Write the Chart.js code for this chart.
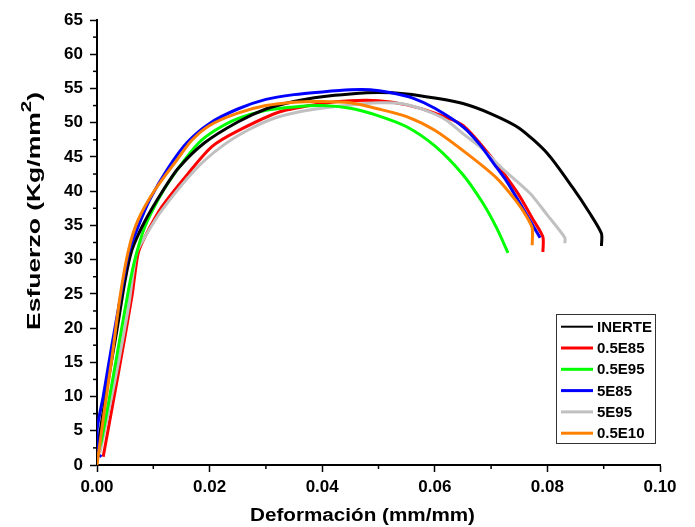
<!DOCTYPE html>
<html>
<head>
<meta charset="utf-8">
<script src="https://cdn.jsdelivr.net/npm/chart.js@4.4.1/dist/chart.umd.min.js"></script>
<style>
  html, body { margin: 0; padding: 0; background: #fff; }
  #wrap { width: 695px; height: 527px; }
</style>
</head>
<body>
<div id="wrap"><canvas id="curvas"></canvas></div>
<script>
// curvas esfuerzo-deformacion, valores
const labels = ['INERTE', '0.5E85', '0.5E95', '5E85', '5E95', '0.5E10'];
const colores = ['#000000', '#ff0000', '#00ff00', '#0000ff', '#c0c0c0', '#ff8000'];
const orden = [2, 5, 3, 1, 4, 0];   // orden de dibujo (0 = encima)

const inerte = [
    [0, 2], [0.002, 12.4], [0.0035, 19.5], [0.005, 27], [0.0062, 31.4], [0.0085, 35.6],
    [0.0115, 39.8], [0.0144, 43.3], [0.019, 47], [0.025, 50.1], [0.03, 52], [0.035, 53.1],
    [0.04, 53.8], [0.045, 54.2], [0.05, 54.4], [0.055, 54.2], [0.06, 53.6], [0.065, 52.8],
    [0.07, 51.3], [0.075, 49.2], [0.08, 45.5], [0.0845, 40.5], [0.0875, 36.8],
    [0.0896, 33.8], [0.0896, 32]
];
const e85_05 = [
    [0.0011, 1.2], [0.0038, 13.4], [0.0062, 24.6], [0.0073, 30.9], [0.0085, 33.3],
    [0.0115, 37.7], [0.0162, 42.6], [0.0204, 46.5], [0.025, 48.8], [0.0325, 51.6],
    [0.04, 52.8], [0.045, 53.2], [0.05, 53.2], [0.055, 52.6], [0.06, 51.4], [0.065, 49.6],
    [0.07, 45], [0.0745, 40], [0.0775, 35.8], [0.0792, 33.3], [0.0792, 31.1]
];
const e95_05 = [
    [0, 1.5], [0.0008, 3.6], [0.0032, 14.4], [0.0056, 25.6], [0.0067, 29.9], [0.0085, 34.8],
    [0.0115, 39.7], [0.0145, 43.4], [0.018, 47], [0.021, 48.9], [0.025, 50.6], [0.03, 51.8],
    [0.035, 52.3], [0.04, 52.5], [0.045, 52.1], [0.05, 51], [0.055, 49.4], [0.06, 46.6],
    [0.065, 42.4], [0.0685, 38.3], [0.071, 34.6], [0.073, 31]
];
const e85_5 = [
    [0.0008, 1.2], [0.0002, 1.6], [0, 5.1], [0.0011, 10], [0.0026, 17.3], [0.0044, 25.6],
    [0.0056, 30.9], [0.0073, 34.8], [0.0094, 38.8], [0.0125, 43.2], [0.016, 47.1],
    [0.02, 49.9], [0.025, 52], [0.03, 53.4], [0.035, 54.1], [0.04, 54.5], [0.045, 54.8],
    [0.0485, 54.8], [0.052, 54.4], [0.0561, 53.6], [0.06, 52.1], [0.065, 49.4],
    [0.068, 46.8], [0.0705, 44], [0.0728, 41.4], [0.076, 37], [0.0787, 33.2]
];
const e95_5 = [
    [0.0005, 1.7], [0.0032, 12.4], [0.0056, 23.1], [0.007, 30.9], [0.0085, 33.3],
    [0.0115, 37.2], [0.0174, 43.1], [0.0221, 46.5], [0.027, 49], [0.032, 50.8],
    [0.038, 51.9], [0.045, 52.6], [0.05, 52.9], [0.054, 52.8], [0.058, 51.9],
    [0.062, 50.4], [0.065, 48.4], [0.068, 46.5], [0.072, 43.3], [0.0769, 39.7],
    [0.08, 36.5], [0.0831, 33.2], [0.0831, 32.4]
];
const e10_05 = [
    [0, 0], [0.0014, 8.5], [0.0026, 15.3], [0.0041, 24.6], [0.0056, 31.4], [0.0073, 35.8],
    [0.0103, 40.2], [0.0144, 44.8], [0.0168, 47.4], [0.02, 49.6], [0.025, 51.4],
    [0.03, 52.5], [0.035, 53], [0.04, 53.1], [0.045, 52.9], [0.05, 52], [0.055, 50.9],
    [0.06, 48.9], [0.066, 45.3], [0.071, 41.9], [0.0745, 38.5], [0.0763, 36.3],
    [0.0773, 34.6], [0.0773, 32.1]
];
const series = [inerte, e85_05, e95_05, e85_5, e95_5, e10_05];

const xTicks = [0, 0.02, 0.04, 0.06, 0.08, 0.10];
const yTicks = [0, 5, 10, 15, 20, 25, 30, 35, 40, 45, 50, 55, 60, 65];

const FONT = 'Arial, "Liberation Sans", sans-serif';

// texto estirado horizontalmente a un ancho dado
function textoAncho(ctx, partes, ancho) {
    let total = 0;
    partes.forEach(p => { ctx.font = p.font; p.w = ctx.measureText(p.t).width; total += p.w; });
    const k = ancho / total;
    ctx.save();
    ctx.scale(k, 1);
    let x = -total / 2;
    partes.forEach(p => { ctx.font = p.font; ctx.fillText(p.t, x, p.dy || 0); x += p.w; });
    ctx.restore();
}

// ticks menores, titulos de ejes y leyenda
const extras = {
    id: 'extras',
    afterDraw(chart) {
        const ctx = chart.ctx;
        const xs = chart.scales.x, ys = chart.scales.y;
        const a = chart.chartArea;
        ctx.save();
        ctx.strokeStyle = '#000';
        ctx.lineWidth = 1.5;
        for (let i = 0; i < xTicks.length - 1; i++) {
            const px = xs.getPixelForValue((xTicks[i] + xTicks[i + 1]) / 2);
            ctx.beginPath(); ctx.moveTo(px, a.bottom); ctx.lineTo(px, a.bottom + 4); ctx.stroke();
        }
        for (let i = 0; i < yTicks.length - 1; i++) {
            const py = ys.getPixelForValue((yTicks[i] + yTicks[i + 1]) / 2);
            ctx.beginPath(); ctx.moveTo(a.left, py); ctx.lineTo(a.left - 4, py); ctx.stroke();
        }

        ctx.fillStyle = '#000';
        ctx.textAlign = 'left';
        ctx.textBaseline = 'alphabetic';

        // titulo eje x
        ctx.save();
        ctx.translate(362.5, 521);
        textoAncho(ctx, [{ t: 'Deformación (mm/mm)', font: 'bold 18px ' + FONT }], 225);
        ctx.restore();

        // titulo eje y con superindice
        ctx.save();
        ctx.translate(40, 211);
        ctx.rotate(-Math.PI / 2);
        textoAncho(ctx, [
            { t: 'Esfuerzo (Kg/mm', font: 'bold 18px ' + FONT },
            { t: '2', font: 'bold 14px ' + FONT, dy: -9 },
            { t: ')', font: 'bold 18px ' + FONT }
        ], 238);
        ctx.restore();

        // leyenda
        const bx1 = a.right - 5, by2 = a.bottom - 22;
        const bx0 = bx1 - 99, by0 = by2 - 129;
        ctx.strokeStyle = '#333';
        ctx.lineWidth = 1;
        ctx.strokeRect(bx0 + 0.5, by0 + 0.5, bx1 - bx0, by2 - by0);
        ctx.font = 'bold 15px ' + FONT;
        ctx.textBaseline = 'middle';
        labels.forEach((lab, i) => {
            const cy = by0 + 12.7 + i * 21.3;
            ctx.strokeStyle = colores[i];
            ctx.lineWidth = i === 0 ? 2 : 3;
            ctx.beginPath(); ctx.moveTo(bx0 + 5, cy); ctx.lineTo(bx0 + 37, cy); ctx.stroke();
            ctx.fillStyle = '#000';
            ctx.fillText(lab, bx0 + 41, cy + 1);
        });
        ctx.restore();
    }
};

const ctx = document.getElementById('curvas').getContext('2d');
const grafica = new Chart(ctx, {
    type: 'scatter',
    data: {
        datasets: series.map((s, i) => ({
            label: labels[i],
            data: s.map(p => ({ x: p[0], y: p[1] })),
            borderColor: colores[i],
            backgroundColor: colores[i],
            borderWidth: 3,
            order: orden[i],
            showLine: true,
            pointRadius: 0,
            tension: 0.25,
            fill: false
        }))
    },
    options: {
        responsive: true,
        maintainAspectRatio: false,
        animation: false,
        layout: { padding: { left: 0, right: 35, top: 20, bottom: 0 } },
        scales: {
            x: {
                type: 'linear',
                min: 0,
                max: 0.1,
                afterFit: s => { s.height = 62; },
                afterBuildTicks: s => { s.ticks = xTicks.map(v => ({ value: v })); },
                ticks: {
                    color: '#000',
                    font: { family: FONT, size: 17, weight: 'bold' },
                    padding: 5,
                    maxRotation: 0,
                    callback: v => v.toFixed(2)
                },
                grid: { drawOnChartArea: false, tickLength: 7, tickWidth: 1.5, tickColor: '#000' },
                border: { color: '#000', width: 2 }
            },
            y: {
                min: 0,
                max: 65,
                afterFit: s => { s.width = 97; },
                afterBuildTicks: s => { s.ticks = yTicks.map(v => ({ value: v })); },
                ticks: {
                    color: '#000',
                    font: { family: FONT, size: 17, weight: 'bold' },
                    padding: 7
                },
                grid: { drawOnChartArea: false, tickLength: 7, tickWidth: 1.5, tickColor: '#000' },
                border: { color: '#000', width: 2 }
            }
        },
        plugins: {
            legend: { display: false },
            tooltip: { enabled: false }
        }
    },
    plugins: [extras]
});
</script>
</body>
</html>
